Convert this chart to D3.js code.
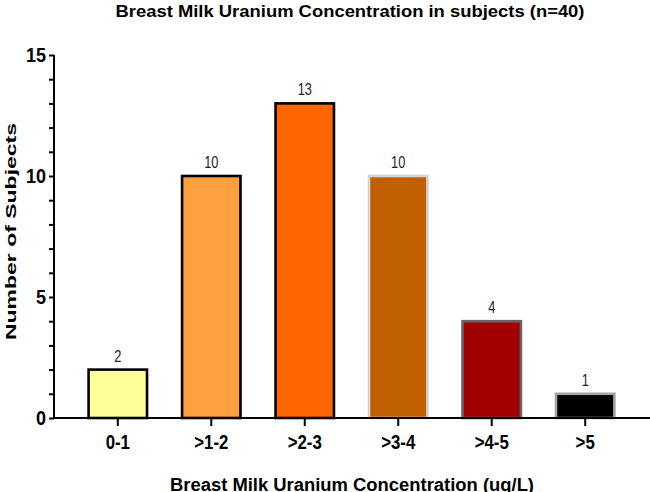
<!DOCTYPE html>
<html>
<head>
<meta charset="utf-8">
<script src="https://cdn.jsdelivr.net/npm/d3@7"></script>
<style>
  html, body { margin: 0; padding: 0; background: #fff; }
  svg { display: block; font-family: "Liberation Sans", Arial, sans-serif; }
</style>
</head>
<body>
<svg id="chart" width="650" height="492"></svg>
<script>
const categories = ["0-1", ">1-2", ">2-3", ">3-4", ">4-5", ">5"];
const counts = [2, 10, 13, 10, 4, 1];
const fills = ["#FFFF99", "#FFA040", "#FF6600", "#C06000", "#A00000", "#000000"];
const strokes = ["#000000", "#000000", "#000000", "#D4D4D4", "#666666", "#A6A6A6"];
const yTickValues = d3.range(0, 16);
const titleText = "Breast Milk Uranium Concentration in subjects (n=40)";
const xTitleText = "Breast Milk Uranium Concentration (ug/L)";
const yTitleText = "Number of Subjects";

const svg = d3.select("#chart");
const x0 = 54, x1 = 649, yTop = 55, yBase = 418;

const x = d3.scaleBand().domain(categories).range([x0, x1])
  .paddingInner(0.375).paddingOuter(0.37);
const y = d3.scaleLinear().domain([0, 15]).range([yBase, yTop]);

function condense(sel, factor) {
  sel.each(function () {
    const len = this.getComputedTextLength();
    if (len > 0) {
      d3.select(this).attr("textLength", len * factor).attr("lengthAdjust", "spacingAndGlyphs");
    }
  });
}

// Bars
svg.append("g").selectAll("rect").data(counts).join("rect")
  .attr("x", (d, i) => x(categories[i]))
  .attr("y", d => y(d))
  .attr("width", x.bandwidth())
  .attr("height", d => yBase - y(d))
  .attr("fill", (d, i) => fills[i])
  .attr("stroke", (d, i) => strokes[i])
  .attr("stroke-width", 2.6);

// Value labels
const vl = svg.append("g").selectAll("text").data(counts).join("text")
  .attr("x", (d, i) => x(categories[i]) + x.bandwidth() / 2)
  .attr("y", d => y(d) - 8)
  .attr("text-anchor", "middle")
  .attr("font-size", 16)
  .attr("fill", "#222")
  .text(d => d);
condense(vl, 0.8);

// Y axis
const yAxis = svg.append("g").attr("transform", `translate(${x0},0)`)
  .call(d3.axisLeft(y).tickValues(yTickValues).tickSize(5).tickPadding(3)
    .tickFormat(d => d % 5 === 0 ? d : ""));
yAxis.select(".domain").attr("stroke", "#000").attr("stroke-width", 2)
  .attr("d", `M0,${yTop}V${yBase}`);
yAxis.selectAll(".tick line").attr("stroke", "#000").attr("stroke-width", 2);
yAxis.selectAll(".tick text").attr("font-size", 20).attr("font-weight", "bold")
  .attr("fill", "#000").attr("font-family", "Liberation Sans, Arial, sans-serif");
condense(yAxis.selectAll(".tick text"), 0.9);

// X axis
const xAxis = svg.append("g").attr("transform", `translate(0,${yBase})`)
  .call(d3.axisBottom(x).tickSize(8).tickPadding(9));
xAxis.select(".domain").attr("stroke", "#000").attr("stroke-width", 2)
  .attr("d", `M${x0 - 1},0H650`);
xAxis.selectAll(".tick line").attr("stroke", "#000").attr("stroke-width", 2);
xAxis.selectAll(".tick text").attr("font-size", 20).attr("font-weight", "bold")
  .attr("fill", "#000").attr("font-family", "Liberation Sans, Arial, sans-serif");
condense(xAxis.selectAll(".tick text"), 0.84);

// Title
svg.append("text").attr("x", 350).attr("y", 17)
  .attr("text-anchor", "middle").attr("font-size", 17).attr("font-weight", "bold")
  .attr("fill", "#000").attr("textLength", 469).attr("lengthAdjust", "spacingAndGlyphs")
  .text(titleText);

// X title
svg.append("text").attr("x", 352).attr("y", 491)
  .attr("text-anchor", "middle").attr("font-size", 18).attr("font-weight", "bold")
  .attr("fill", "#000").attr("textLength", 364).attr("lengthAdjust", "spacingAndGlyphs")
  .text(xTitleText);

// Y title
svg.append("text").attr("transform", "translate(16,231.5) rotate(-90)")
  .attr("text-anchor", "middle").attr("font-size", 14.5).attr("font-weight", "bold")
  .attr("fill", "#000").attr("textLength", 217).attr("lengthAdjust", "spacingAndGlyphs")
  .text(yTitleText);
</script>
</body>
</html>
